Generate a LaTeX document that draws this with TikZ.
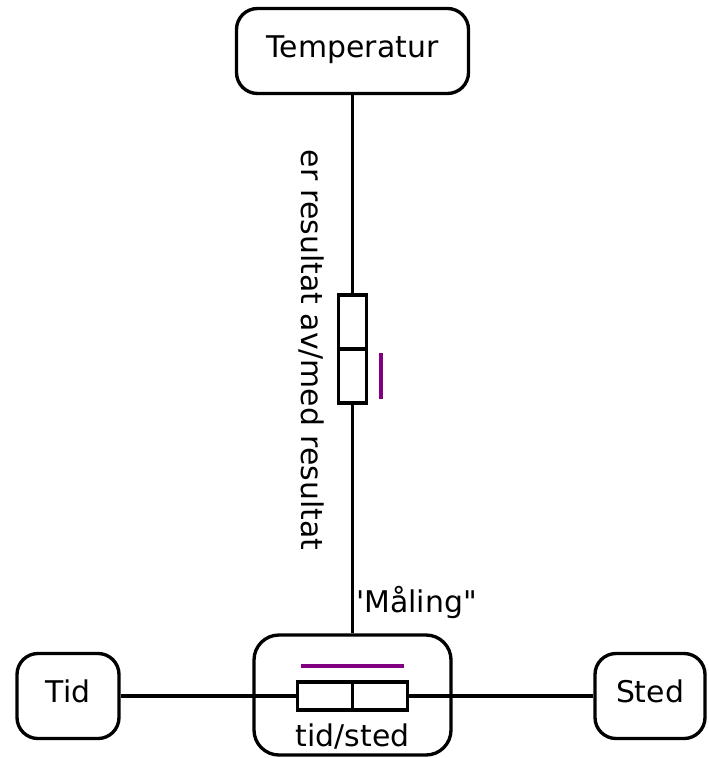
\documentclass[tikz,border=0pt]{standalone}
\usepackage{fontspec}
\setmainfont{DejaVu Sans}[Ligatures=TeXOff]
\usetikzlibrary{positioning}
\definecolor{lilla}{RGB}{128,0,128}
\tikzset{
    entity/.style={draw, line width=1.9pt, rounded corners=0.42cm, inner sep=0pt,
        text height=0.73em, text depth=0pt},
    half/.style={draw, line width=1.9pt, inner sep=0pt, fill=white},
    link/.style={line width=1.9pt},
    hint/.style={line width=2.1pt, draw=lilla},
    caption/.style={inner sep=0pt},
}

\begin{document}
\begin{tikzpicture}[font=\fontsize{17}{20}\selectfont]
\useasboundingbox (0,0) rectangle (14.16,-15.16);
\node[entity, minimum width=4.64cm, minimum height=1.7cm] (temp) at (7.05,-1.02) {Temperatur};
\node[entity, minimum width=2.04cm, minimum height=1.7cm] (tid) at (1.36,-13.92) {Tid};
\node[entity, minimum width=2.2cm, minimum height=1.7cm] (sted) at (13.0,-13.92) {Sted};
\node[entity, rounded corners=0.5cm, minimum width=3.94cm, minimum height=2.4cm] (maling) at (7.05,-13.9) {};

\node[half, minimum width=0.56cm, minimum height=1.08cm] (rel1) at (7.05,-6.44) {};
\node[half, minimum width=0.56cm, minimum height=1.08cm] (rel2) at (7.05,-7.52) {};
\node[half, minimum width=1.1cm, minimum height=0.56cm] (ts1) at (6.5,-13.92) {};
\node[half, minimum width=1.1cm, minimum height=0.56cm] (ts2) at (7.6,-13.92) {};

\draw[link] (temp.south) -- (rel1.north);
\draw[link] (rel2.south) -- (maling.north);
\draw[link] (tid.east) -- (ts1.west);
\draw[link] (ts2.east) -- (sted.west);

\draw[hint] ([xshift=0.25cm,yshift=-0.12cm]rel2.north east) -- ([xshift=0.25cm,yshift=0.12cm]rel2.south east);
\draw[hint] ([xshift=0.11cm,yshift=0.28cm]ts1.north west) -- ([xshift=-0.11cm,yshift=0.28cm]ts2.north east);

\node[caption, rotate=-90] (roletext) at (6.22,-7.0) {er resultat av/med resultat};
\node[caption, anchor=base west] (malingtext) at (7.12,-12.24) {'Måling"};
\node[caption, anchor=base] (tstext) at (7.05,-14.92) {tid/sted};
\end{tikzpicture}
\end{document}
